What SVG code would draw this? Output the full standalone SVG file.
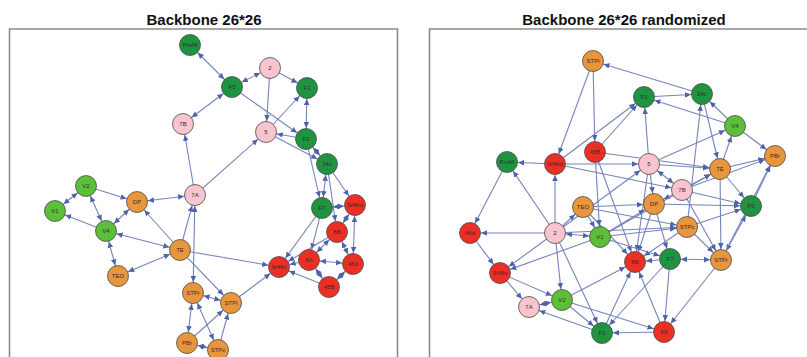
<svg xmlns="http://www.w3.org/2000/svg" width="807" height="357" viewBox="0 0 807 357">
<style>
.t{font-family:"Liberation Sans",Arial,sans-serif;font-weight:bold;font-size:15px;fill:#111;text-anchor:middle}
.fr{fill:none;stroke:#8c8c8c;stroke-width:1.6}
.e line{stroke:#7584bd;stroke-width:1.1;marker-end:url(#a)}
.e line.b{marker-start:url(#a)}
.n circle{stroke:#4a4a4a;stroke-width:0.8}
.n text{font-family:"Liberation Sans",Arial,sans-serif;font-size:6px;fill:#3a2a2a;text-anchor:middle;dominant-baseline:central}
.dg{fill:#1e9440}.lg{fill:#5cbf3a}.pk{fill:#f7c4cf}.or{fill:#e8963e}.rd{fill:#ec2f24}
</style>
<defs>
<marker id="a" viewBox="0 0 20 10" refX="17" refY="5" markerWidth="20" markerHeight="10" markerUnits="userSpaceOnUse" orient="auto-start-reverse">
<path d="M0,2.2 L6,5 L0,7.8 z" fill="#4d62ab"/>
</marker>
</defs>
<rect width="807" height="357" fill="#fff"/>
<text class="t" x="204" y="25">Backbone 26*26</text>
<text class="t" x="624" y="25">Backbone 26*26 randomized</text>
<path class="fr" d="M9.5,370 V29 H397.5 V370"/>
<path class="fr" d="M429.5,370 V29 H812"/>

<g id="connectors-left" class="e">
<line class="b" x1="190" y1="45" x2="232" y2="87"/>
<line class="b" x1="270" y1="68" x2="232" y2="87"/>
<line x1="270" y1="68" x2="307" y2="88"/>
<line x1="270" y1="68" x2="266" y2="132"/>
<line class="b" x1="183" y1="124" x2="232" y2="87"/>
<line x1="232" y1="87" x2="306" y2="139"/>
<line x1="266" y1="132" x2="307" y2="88"/>
<line class="b" x1="307" y1="88" x2="306" y2="139"/>
<line x1="306" y1="139" x2="266" y2="132"/>
<line x1="266" y1="132" x2="327" y2="164"/>
<line x1="195" y1="195" x2="266" y2="132"/>
<line x1="195" y1="195" x2="183" y2="124"/>
<line class="b" x1="306" y1="139" x2="327" y2="164"/>
<line class="b" x1="327" y1="164" x2="322" y2="208"/>
<line x1="327" y1="164" x2="355" y2="205"/>
<line x1="327" y1="164" x2="337" y2="232"/>
<line x1="306" y1="139" x2="322" y2="208"/>
<line class="b" x1="322" y1="208" x2="355" y2="205"/>
<line x1="322" y1="208" x2="309" y2="260"/>
<line x1="322" y1="208" x2="279" y2="267"/>
<line class="b" x1="355" y1="205" x2="353" y2="264"/>
<line class="b" x1="355" y1="205" x2="337" y2="232"/>
<line class="b" x1="337" y1="232" x2="309" y2="260"/>
<line class="b" x1="337" y1="232" x2="353" y2="264"/>
<line x1="337" y1="232" x2="279" y2="267"/>
<line class="b" x1="309" y1="260" x2="353" y2="264"/>
<line class="b" x1="309" y1="260" x2="329" y2="287"/>
<line class="b" x1="353" y1="264" x2="329" y2="287"/>
<line x1="309" y1="260" x2="279" y2="267"/>
<line x1="329" y1="287" x2="279" y2="267"/>
<line x1="180" y1="250" x2="279" y2="267"/>
<line x1="231" y1="303" x2="279" y2="267"/>
<line class="b" x1="86" y1="186" x2="55" y2="211"/>
<line x1="86" y1="186" x2="137" y2="202"/>
<line class="b" x1="86" y1="186" x2="106" y2="231"/>
<line x1="106" y1="231" x2="55" y2="211"/>
<line class="b" x1="106" y1="231" x2="137" y2="202"/>
<line class="b" x1="106" y1="231" x2="180" y2="250"/>
<line class="b" x1="106" y1="231" x2="118" y2="276"/>
<line class="b" x1="118" y1="276" x2="180" y2="250"/>
<line class="b" x1="137" y1="202" x2="195" y2="195"/>
<line x1="180" y1="250" x2="137" y2="202"/>
<line x1="180" y1="250" x2="195" y2="195"/>
<line x1="180" y1="250" x2="231" y2="303"/>
<line class="b" x1="195" y1="195" x2="193" y2="293"/>
<line class="b" x1="193" y1="293" x2="231" y2="303"/>
<line class="b" x1="193" y1="293" x2="187" y2="343"/>
<line class="b" x1="193" y1="293" x2="218" y2="350"/>
<line class="b" x1="187" y1="343" x2="218" y2="350"/>
<line x1="218" y1="350" x2="231" y2="303"/>
<line x1="187" y1="343" x2="231" y2="303"/>
</g>

<g id="connectors-right" class="e">
<line x1="702" y1="94" x2="593" y2="61"/>
<line x1="593" y1="61" x2="555" y2="164"/>
<line x1="593" y1="61" x2="595" y2="152"/>
<line x1="555" y1="164" x2="507" y2="162"/>
<line x1="644" y1="97" x2="702" y2="94"/>
<line x1="735" y1="126" x2="644" y2="97"/>
<line x1="735" y1="126" x2="702" y2="94"/>
<line x1="735" y1="126" x2="775" y2="156"/>
<line x1="649" y1="164" x2="735" y2="126"/>
<line x1="649" y1="164" x2="644" y2="97"/>
<line x1="649" y1="164" x2="720" y2="169"/>
<line x1="702" y1="94" x2="720" y2="169"/>
<line x1="720" y1="169" x2="735" y2="126"/>
<line x1="687" y1="227" x2="702" y2="94"/>
<line x1="595" y1="152" x2="644" y2="97"/>
<line x1="555" y1="164" x2="644" y2="97"/>
<line class="b" x1="649" y1="164" x2="682" y2="190"/>
<line x1="649" y1="164" x2="654" y2="204"/>
<line x1="682" y1="190" x2="720" y2="169"/>
<line x1="682" y1="190" x2="751" y2="206"/>
<line x1="720" y1="169" x2="751" y2="206"/>
<line x1="751" y1="206" x2="775" y2="156"/>
<line x1="682" y1="190" x2="775" y2="156"/>
<line x1="720" y1="169" x2="775" y2="156"/>
<line x1="654" y1="204" x2="751" y2="206"/>
<line x1="654" y1="204" x2="635" y2="262"/>
<line x1="654" y1="204" x2="670" y2="259"/>
<line x1="682" y1="190" x2="654" y2="204"/>
<line x1="687" y1="227" x2="721" y2="260"/>
<line x1="687" y1="227" x2="635" y2="262"/>
<line x1="600" y1="237" x2="687" y2="227"/>
<line x1="670" y1="259" x2="635" y2="262"/>
<line class="b" x1="670" y1="259" x2="721" y2="260"/>
<line class="b" x1="751" y1="206" x2="721" y2="260"/>
<line x1="721" y1="260" x2="664" y2="332"/>
<line x1="664" y1="332" x2="602" y2="333"/>
<line x1="664" y1="332" x2="635" y2="262"/>
<line x1="670" y1="259" x2="602" y2="333"/>
<line x1="670" y1="259" x2="664" y2="332"/>
<line x1="602" y1="333" x2="635" y2="262"/>
<line x1="720" y1="169" x2="721" y2="260"/>
<line x1="507" y1="162" x2="470" y2="233"/>
<line x1="555" y1="233" x2="507" y2="162"/>
<line x1="555" y1="233" x2="555" y2="164"/>
<line x1="555" y1="233" x2="470" y2="233"/>
<line x1="470" y1="233" x2="500" y2="273"/>
<line x1="555" y1="233" x2="500" y2="273"/>
<line x1="600" y1="237" x2="500" y2="273"/>
<line x1="500" y1="273" x2="529" y2="307"/>
<line x1="500" y1="273" x2="562" y2="300"/>
<line class="b" x1="562" y1="300" x2="529" y2="307"/>
<line x1="555" y1="233" x2="562" y2="300"/>
<line x1="555" y1="233" x2="602" y2="333"/>
<line x1="562" y1="300" x2="602" y2="333"/>
<line x1="602" y1="333" x2="529" y2="307"/>
<line x1="555" y1="233" x2="583" y2="207"/>
<line class="b" x1="555" y1="233" x2="600" y2="237"/>
<line x1="583" y1="207" x2="600" y2="237"/>
<line x1="562" y1="300" x2="635" y2="262"/>
<line x1="562" y1="300" x2="664" y2="332"/>
<line x1="555" y1="164" x2="649" y2="164"/>
<line x1="595" y1="152" x2="720" y2="169"/>
<line x1="583" y1="207" x2="654" y2="204"/>
<line x1="583" y1="207" x2="687" y2="227"/>
<line x1="583" y1="207" x2="635" y2="262"/>
<line x1="649" y1="164" x2="635" y2="262"/>
<line x1="595" y1="152" x2="635" y2="262"/>
<line x1="595" y1="152" x2="600" y2="237"/>
<line x1="600" y1="237" x2="670" y2="259"/>
<line x1="600" y1="237" x2="654" y2="204"/>
<line x1="687" y1="227" x2="751" y2="206"/>
<line x1="555" y1="233" x2="649" y2="164"/>
<line x1="555" y1="164" x2="682" y2="190"/>
<line x1="682" y1="190" x2="721" y2="260"/>
<line x1="555" y1="233" x2="687" y2="227"/>
<line x1="600" y1="237" x2="720" y2="169"/>
<line x1="721" y1="260" x2="775" y2="156"/>
</g>

<g id="L-ProM" class="n"><circle class="dg" cx="190" cy="45" r="10.5"/><text x="190" y="45">ProM</text></g>
<g id="L-F5" class="n"><circle class="dg" cx="232" cy="87" r="10.5"/><text x="232" y="87">F5</text></g>
<g id="L-2" class="n"><circle class="pk" cx="270" cy="68" r="10.5"/><text x="270" y="68">2</text></g>
<g id="L-F1" class="n"><circle class="dg" cx="307" cy="88" r="10.5"/><text x="307" y="88">F1</text></g>
<g id="L-7B" class="n"><circle class="pk" cx="183" cy="124" r="10.5"/><text x="183" y="124">7B</text></g>
<g id="L-5" class="n"><circle class="pk" cx="266" cy="132" r="10.5"/><text x="266" y="132">5</text></g>
<g id="L-F2" class="n"><circle class="dg" cx="306" cy="139" r="10.5"/><text x="306" y="139">F2</text></g>
<g id="L-24c" class="n"><circle class="dg" cx="327" cy="164" r="10.5"/><text x="327" y="164">24c</text></g>
<g id="L-F7" class="n"><circle class="dg" cx="322" cy="208" r="10.5"/><text x="322" y="208">F7</text></g>
<g id="L-946d" class="n"><circle class="rd" cx="355" cy="205" r="10.5"/><text x="355" y="205">9/46d</text></g>
<g id="L-8B" class="n"><circle class="rd" cx="337" cy="232" r="10.5"/><text x="337" y="232">8B</text></g>
<g id="L-8A" class="n"><circle class="rd" cx="309" cy="260" r="10.5"/><text x="309" y="260">8A</text></g>
<g id="L-46d" class="n"><circle class="rd" cx="353" cy="264" r="10.5"/><text x="353" y="264">46d</text></g>
<g id="L-946v" class="n"><circle class="rd" cx="279" cy="267" r="10.5"/><text x="279" y="267">9/46v</text></g>
<g id="L-45B" class="n"><circle class="rd" cx="329" cy="287" r="10.5"/><text x="329" y="287">45B</text></g>
<g id="L-V2" class="n"><circle class="lg" cx="86" cy="186" r="10.5"/><text x="86" y="186">V2</text></g>
<g id="L-V1" class="n"><circle class="lg" cx="55" cy="211" r="10.5"/><text x="55" y="211">V1</text></g>
<g id="L-DP" class="n"><circle class="or" cx="137" cy="202" r="10.5"/><text x="137" y="202">DP</text></g>
<g id="L-7A" class="n"><circle class="pk" cx="195" cy="195" r="10.5"/><text x="195" y="195">7A</text></g>
<g id="L-V4" class="n"><circle class="lg" cx="106" cy="231" r="10.5"/><text x="106" y="231">V4</text></g>
<g id="L-TE" class="n"><circle class="or" cx="180" cy="250" r="10.5"/><text x="180" y="250">TE</text></g>
<g id="L-TEO" class="n"><circle class="or" cx="118" cy="276" r="10.5"/><text x="118" y="276">TEO</text></g>
<g id="L-STPr" class="n"><circle class="or" cx="193" cy="293" r="10.5"/><text x="193" y="293">STPr</text></g>
<g id="L-STPi" class="n"><circle class="or" cx="231" cy="303" r="10.5"/><text x="231" y="303">STPi</text></g>
<g id="L-PBr" class="n"><circle class="or" cx="187" cy="343" r="10.5"/><text x="187" y="343">PBr</text></g>
<g id="L-STPc" class="n"><circle class="or" cx="218" cy="350" r="10.5"/><text x="218" y="350">STPc</text></g>

<g id="R-STPi" class="n"><circle class="or" cx="593" cy="61" r="10.5"/><text x="593" y="61">STPi</text></g>
<g id="R-F1" class="n"><circle class="dg" cx="644" cy="97" r="10.5"/><text x="644" y="97">F1</text></g>
<g id="R-24c" class="n"><circle class="dg" cx="702" cy="94" r="10.5"/><text x="702" y="94">24c</text></g>
<g id="R-V4" class="n"><circle class="lg" cx="735" cy="126" r="10.5"/><text x="735" y="126">V4</text></g>
<g id="R-PBr" class="n"><circle class="or" cx="775" cy="156" r="10.5"/><text x="775" y="156">PBr</text></g>
<g id="R-ProM" class="n"><circle class="dg" cx="507" cy="162" r="10.5"/><text x="507" y="162">ProM</text></g>
<g id="R-946d" class="n"><circle class="rd" cx="555" cy="164" r="10.5"/><text x="555" y="164">9/46d</text></g>
<g id="R-45B" class="n"><circle class="rd" cx="595" cy="152" r="10.5"/><text x="595" y="152">45B</text></g>
<g id="R-5" class="n"><circle class="pk" cx="649" cy="164" r="10.5"/><text x="649" y="164">5</text></g>
<g id="R-TE" class="n"><circle class="or" cx="720" cy="169" r="10.5"/><text x="720" y="169">TE</text></g>
<g id="R-7B" class="n"><circle class="pk" cx="682" cy="190" r="10.5"/><text x="682" y="190">7B</text></g>
<g id="R-DP" class="n"><circle class="or" cx="654" cy="204" r="10.5"/><text x="654" y="204">DP</text></g>
<g id="R-F5" class="n"><circle class="dg" cx="751" cy="206" r="10.5"/><text x="751" y="206">F5</text></g>
<g id="R-TEO" class="n"><circle class="or" cx="583" cy="207" r="10.5"/><text x="583" y="207">TEO</text></g>
<g id="R-STPc" class="n"><circle class="or" cx="687" cy="227" r="10.5"/><text x="687" y="227">STPc</text></g>
<g id="R-2" class="n"><circle class="pk" cx="555" cy="233" r="10.5"/><text x="555" y="233">2</text></g>
<g id="R-V1" class="n"><circle class="lg" cx="600" cy="237" r="10.5"/><text x="600" y="237">V1</text></g>
<g id="R-46d" class="n"><circle class="rd" cx="470" cy="233" r="10.5"/><text x="470" y="233">46d</text></g>
<g id="R-8B" class="n"><circle class="rd" cx="635" cy="262" r="10.5"/><text x="635" y="262">8B</text></g>
<g id="R-F7" class="n"><circle class="dg" cx="670" cy="259" r="10.5"/><text x="670" y="259">F7</text></g>
<g id="R-STPr" class="n"><circle class="or" cx="721" cy="260" r="10.5"/><text x="721" y="260">STPr</text></g>
<g id="R-946v" class="n"><circle class="rd" cx="500" cy="273" r="10.5"/><text x="500" y="273">9/46v</text></g>
<g id="R-V2" class="n"><circle class="lg" cx="562" cy="300" r="10.5"/><text x="562" y="300">V2</text></g>
<g id="R-7A" class="n"><circle class="pk" cx="529" cy="307" r="10.5"/><text x="529" y="307">7A</text></g>
<g id="R-F2" class="n"><circle class="dg" cx="602" cy="333" r="10.5"/><text x="602" y="333">F2</text></g>
<g id="R-8A" class="n"><circle class="rd" cx="664" cy="332" r="10.5"/><text x="664" y="332">8A</text></g>
</svg>
